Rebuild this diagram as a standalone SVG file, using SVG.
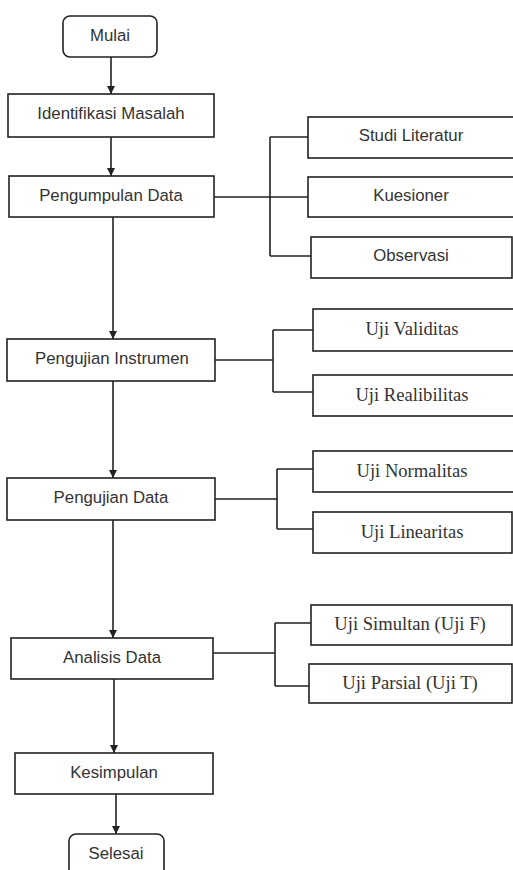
<svg xmlns="http://www.w3.org/2000/svg" width="513" height="870" viewBox="0 0 513 870">
<defs>
<style>
.box{fill:#fff;stroke:#222;stroke-width:1.6}
.ln{fill:none;stroke:#222;stroke-width:1.6}
.s{font-family:"Liberation Sans",Arial,sans-serif;font-size:16.8px;fill:#333;text-anchor:middle;dominant-baseline:central}
.r{font-family:"Liberation Serif","Times New Roman",serif;font-size:18.6px;fill:#333;text-anchor:middle;dominant-baseline:central}
</style>
<marker id="ah" viewBox="0 0 10 10" refX="10" refY="5" markerWidth="8" markerHeight="9" markerUnits="userSpaceOnUse" orient="auto">
<path d="M0,0 L10,5 L0,10 z" fill="#222"/>
</marker>
</defs>
<rect width="513" height="870" fill="#fff"/>
<g id="connectors">
<line class="ln" x1="111" y1="57" x2="111" y2="94" marker-end="url(#ah)"/>
<line class="ln" x1="111" y1="137" x2="111" y2="176" marker-end="url(#ah)"/>
<line class="ln" x1="113" y1="217" x2="113" y2="339" marker-end="url(#ah)"/>
<line class="ln" x1="113" y1="381" x2="113" y2="478" marker-end="url(#ah)"/>
<line class="ln" x1="113" y1="520" x2="113" y2="638" marker-end="url(#ah)"/>
<line class="ln" x1="114" y1="679" x2="114" y2="753" marker-end="url(#ah)"/>
<line class="ln" x1="116" y1="794" x2="116" y2="834" marker-end="url(#ah)"/>
<path class="ln" d="M214,197 H308 M270,137 V256 M270,137 H308 M270,256 H311"/>
<path class="ln" d="M215,360 H273 M273,330 V392 M273,330 H313 M273,392 H313"/>
<path class="ln" d="M215,499 H277 M277,469 V529 M277,469 H313 M277,529 H313"/>
<path class="ln" d="M213,653 H275 M275,623 V686 M275,623 H311 M275,686 H309"/>
</g>
<g id="mulai"><rect class="box" x="63" y="16" width="94" height="41" rx="7"/><text class="s" x="110" y="35">Mulai</text></g>
<g id="identifikasi"><rect class="box" x="8" y="94" width="206" height="43"/><text class="s" x="111" y="113">Identifikasi Masalah</text></g>
<g id="pengumpulan"><rect class="box" x="9" y="176" width="205" height="41"/><text class="s" x="111" y="195">Pengumpulan Data</text></g>
<g id="studi"><rect class="box" x="308" y="117" width="210" height="41"/><text class="s" x="411" y="135">Studi Literatur</text></g>
<g id="kuesioner"><rect class="box" x="308" y="177" width="210" height="40"/><text class="s" x="411" y="195">Kuesioner</text></g>
<g id="observasi"><rect class="box" x="311" y="237" width="201" height="41"/><text class="s" x="411" y="255">Observasi</text></g>
<g id="instrumen"><rect class="box" x="7" y="339" width="208" height="42"/><text class="s" x="112" y="358">Pengujian Instrumen</text></g>
<g id="validitas"><rect class="box" x="313" y="309" width="205" height="42"/><text class="r" x="412" y="328">Uji Validitas</text></g>
<g id="realibilitas"><rect class="box" x="313" y="375" width="205" height="41"/><text class="r" x="412" y="394">Uji Realibilitas</text></g>
<g id="pengujiandata"><rect class="box" x="7" y="478" width="208" height="42"/><text class="s" x="111" y="497">Pengujian Data</text></g>
<g id="normalitas"><rect class="box" x="313" y="451" width="205" height="41"/><text class="r" x="412" y="470">Uji Normalitas</text></g>
<g id="linearitas"><rect class="box" x="313" y="512" width="199" height="41"/><text class="r" x="412" y="531">Uji Linearitas</text></g>
<g id="analisis"><rect class="box" x="11" y="638" width="202" height="41"/><text class="s" x="112" y="657">Analisis Data</text></g>
<g id="simultan"><rect class="box" x="311" y="605" width="201" height="40"/><text class="r" x="410" y="623">Uji Simultan (Uji F)</text></g>
<g id="parsial"><rect class="box" x="309" y="664" width="203" height="39"/><text class="r" x="410" y="682">Uji Parsial (Uji T)</text></g>
<g id="kesimpulan"><rect class="box" x="15" y="753" width="198" height="41"/><text class="s" x="114" y="772">Kesimpulan</text></g>
<g id="selesai"><rect class="box" x="69" y="834" width="95" height="60" rx="7"/><text class="s" x="116" y="853">Selesai</text></g>
</svg>
